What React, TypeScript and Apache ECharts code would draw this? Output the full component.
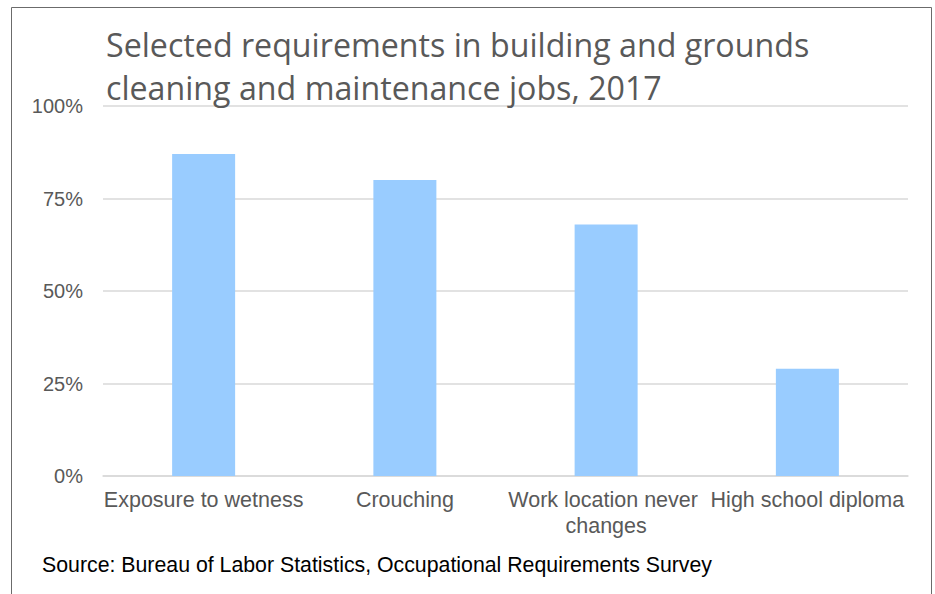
import React, { useEffect, useRef } from "react";
import * as echarts from "echarts";

const titleLines = [
  "Selected requirements in building and grounds",
  "cleaning and maintenance jobs, 2017",
];
const categories = [
  "Exposure to wetness",
  "Crouching",
  "Work location never changes",
  "High school diploma",
];
const values = [87, 80, 68, 29];
const yTicks = { min: 0, max: 100, interval: 25 };
const sourceText =
  "Source: Bureau of Labor Statistics, Occupational Requirements Survey";

export default function App() {
  const ref = useRef<HTMLDivElement>(null);
  useEffect(() => {
    document.body.style.margin = "0";
    const chart = echarts.init(ref.current!, null, { renderer: "svg" });
    chart.setOption({
      animation: false,
      backgroundColor: "#ffffff",
      title: {
        text: titleLines.join("\n"),
        left: 101,
        top: 18,
        textStyle: {
          fontFamily: "Open Sans",
          fontWeight: "normal",
          fontSize: 32.2,
          lineHeight: 43,
          color: "#595959",
        },
      },
      grid: { left: 103, right: 27, top: 106, bottom: 118 },
      xAxis: {
        type: "category",
        data: categories,
        axisLine: { show: true, lineStyle: { color: "#D9D9D9", width: 1.5 } },
        axisTick: { show: false },
        axisLabel: {
          color: "#595959",
          fontFamily: "Liberation Sans",
          fontSize: 21.5,
          margin: 11,
          lineHeight: 26,
          width: 200,
          overflow: "break",
          interval: 0,
        },
      },
      yAxis: {
        type: "value",
        min: yTicks.min,
        max: yTicks.max,
        interval: yTicks.interval,
        axisLine: { show: false },
        axisTick: { show: false },
        splitLine: { lineStyle: { color: "#D9D9D9", width: 1.5 } },
        axisLabel: {
          color: "#595959",
          fontFamily: "Liberation Sans",
          fontSize: 20,
          margin: 20,
          formatter: "{value}%",
        },
      },
      series: [
        {
          type: "bar",
          data: values,
          barWidth: 63,
          itemStyle: { color: "#99CCFF" },
        },
      ],
      graphic: [
        {
          type: "rect",
          shape: { x: 11.5, y: 7.5, width: 920, height: 700 },
          style: { fill: "none", stroke: "#6b6b6b", lineWidth: 1 },
          silent: true,
        },
        {
          type: "text",
          left: 42,
          top: 554,
          style: {
            text: sourceText,
            fill: "#000000",
            font: "21.3px 'Liberation Sans'",
          },
        },
      ],
    });
    return () => chart.dispose();
  }, []);
  return <div ref={ref} style={{ width: 935, height: 594 }} />;
}
